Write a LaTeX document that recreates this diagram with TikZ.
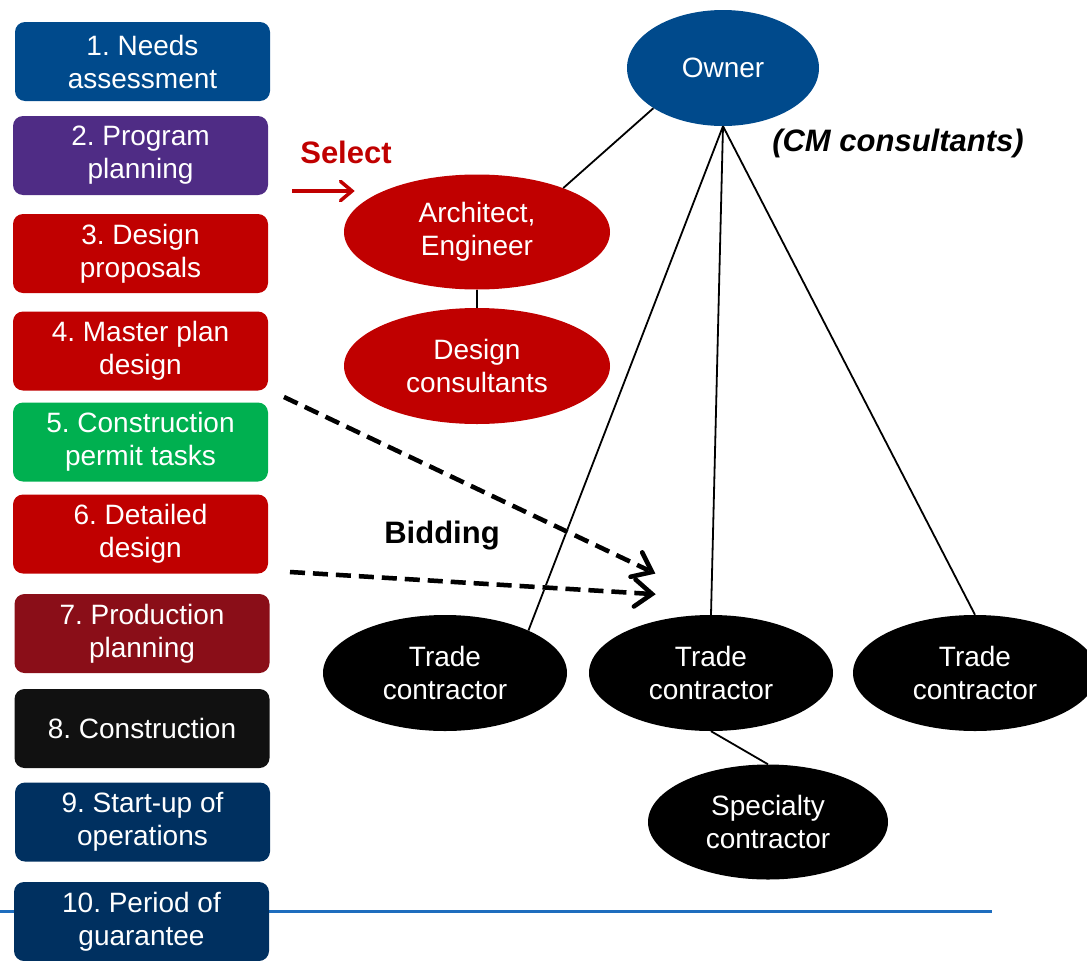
\documentclass[tikz,border=0pt]{standalone}
\usepackage{fontspec}
\setmainfont{Liberation Sans}
\usetikzlibrary{shapes.geometric,arrows.meta,calc}
\definecolor{cblue}{HTML}{004A8C}
\definecolor{cpurple}{HTML}{4F2C85}
\definecolor{cred}{HTML}{C00000}
\definecolor{cgreen}{HTML}{00B050}
\definecolor{cdarkred}{HTML}{8A0E18}
\definecolor{cblack}{HTML}{111111}
\definecolor{cnavy}{HTML}{003060}
\definecolor{cline}{HTML}{1E6DBE}
\frenchspacing
\begin{document}
\begin{tikzpicture}[x=1pt,y=-1pt,
  every node/.style={font=\fontsize{28}{33}\selectfont},
  label text/.style={font=\fontsize{31}{36}\selectfont\bfseries},
  phase/.style={rounded corners=10pt, fill=#1, text=white, align=center,
    minimum width=255pt, minimum height=79pt, inner sep=0pt},
  party/.style={ellipse, fill=#1, text=white, align=center, inner sep=0pt},
  link/.style={line width=1.8pt, black},
  bidline/.style={line width=4.5pt, dash pattern=on 15pt off 8pt},
  chevron/.style={line width=4.5pt, line cap=round, line join=miter}
]
\useasboundingbox (0,0) rectangle (1087,961);

% bottom rule
\draw[cline, line width=3pt] (0,911) -- (992,911);

% project phases
\node[phase=cblue]    (p1)  at (142.5,61.5)  {1. Needs\\assessment};
\node[phase=cpurple]  (p2)  at (140.5,155.5) {2. Program\\planning};
\node[phase=cred]     (p3)  at (140.5,253.5) {3. Design\\proposals};
\node[phase=cred]     (p4)  at (140.5,351)   {4. Master plan\\design};
\node[phase=cgreen]   (p5)  at (140.5,442)   {5. Construction\\permit tasks};
\node[phase=cred]     (p6)  at (140.5,534)   {6. Detailed\\design};
\node[phase=cdarkred] (p7)  at (142,633.5)   {7. Production\\planning};
\node[phase=cblack]   (p8)  at (142,728.5)   {8. Construction};
\node[phase=cnavy]    (p9)  at (142.5,822)   {9. Start-up of\\operations};
\node[phase=cnavy]    (p10) at (141.5,921.5) {10. Period of\\guarantee};

% parties
\node[party=cblue, minimum width=192pt, minimum height=116pt] (owner) at (723,68) {Owner};
\node[party=cred, minimum width=266pt, minimum height=115pt] (arch) at (477,232) {Architect,\\Engineer};
\node[party=cred, minimum width=266pt, minimum height=116pt] (dcons) at (477,366) {Design\\consultants};
\node[party=black, minimum width=244pt, minimum height=116pt] (tc1) at (445,673) {Trade\\contractor};
\node[party=black, minimum width=244pt, minimum height=116pt] (tc2) at (711,673) {Trade\\contractor};
\node[party=black, minimum width=244pt, minimum height=116pt] (tc3) at (975,673) {Trade\\contractor};
\node[party=black, minimum width=240pt, minimum height=115pt] (spec) at (768,822) {Specialty\\contractor};

% relations
\draw[link] (owner.south) -- (tc1.27);
\draw[link] (owner.south) -- (tc2.north);
\draw[link] (owner.south) -- (tc3.north);
\draw[link] (owner.210) -- (arch.27);
\draw[link] (arch.south) -- (dcons.north);
\draw[link] (tc2.south) -- (spec.north);

% labels
\node[label text, text=cred] (sel) at (346,152) {Select};
\node[label text, font=\fontsize{31}{36}\selectfont\bfseries\itshape] (cm) at (898,143) {(CM consultants)};
\node[label text] (bid) at (442,536) {Bidding};

% selection arrow
\coordinate (selA) at (292,191);
\coordinate (selB) at (352,191);
\draw[cred, line width=3.5pt] (selA) -- ($(selB)!2pt!(selA)$);
\draw[cred, line width=3.5pt, line cap=round]
  ($(selB)!15pt!40:(selA)$) -- (selB) -- ($(selB)!15pt!-40:(selA)$);

% bidding arrows, with a soft shadow underneath
\coordinate (b1s) at (284,397);
\coordinate (b1e) at (652,572);
\coordinate (b2s) at (290,572);
\coordinate (b2e) at (652,594);
\begin{scope}[shift={(3,4)}, black!20]
  \draw[bidline] (b1s) -- ($(b1e)!4pt!(b1s)$);
  \draw[chevron] ($(b1e)!22pt!38:(b1s)$) -- (b1e) -- ($(b1e)!22pt!-38:(b1s)$);
  \draw[bidline] (b2s) -- ($(b2e)!4pt!(b2s)$);
  \draw[chevron] ($(b2e)!22pt!38:(b2s)$) -- (b2e) -- ($(b2e)!22pt!-38:(b2s)$);
\end{scope}
\draw[bidline] (b1s) -- ($(b1e)!4pt!(b1s)$);
\draw[chevron] ($(b1e)!22pt!38:(b1s)$) -- (b1e) -- ($(b1e)!22pt!-38:(b1s)$);
\draw[bidline] (b2s) -- ($(b2e)!4pt!(b2s)$);
\draw[chevron] ($(b2e)!22pt!38:(b2s)$) -- (b2e) -- ($(b2e)!22pt!-38:(b2s)$);
\end{tikzpicture}
\end{document}
